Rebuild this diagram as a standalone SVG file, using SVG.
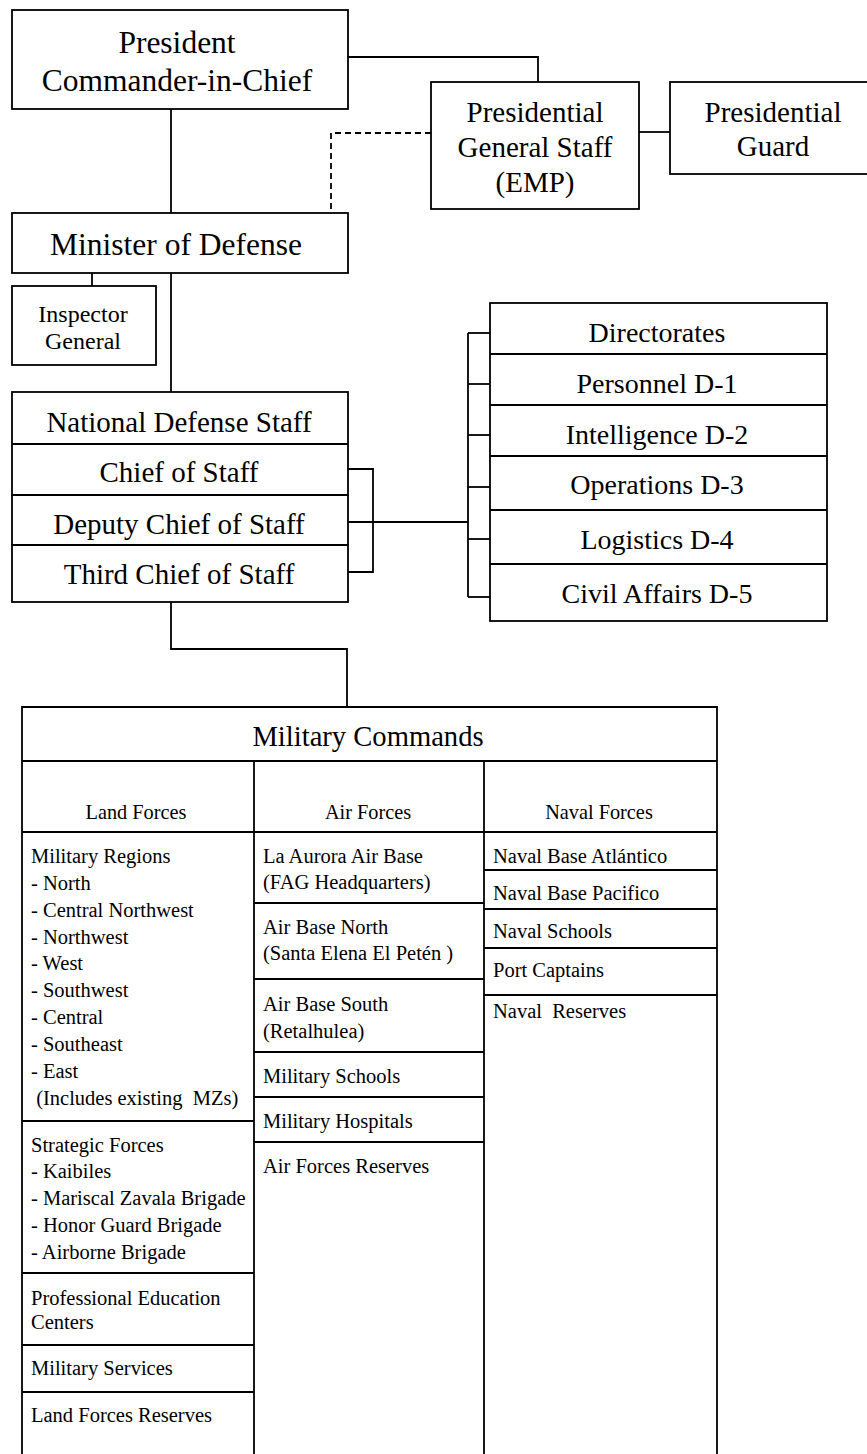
<svg xmlns="http://www.w3.org/2000/svg" width="867" height="1454" viewBox="0 0 867 1454">
<style>
.b{fill:#fff;stroke:#000;stroke-width:1.8}
.l{fill:none;stroke:#000;stroke-width:1.8}
.d{fill:none;stroke:#000;stroke-width:1.8;stroke-dasharray:6,4}
text{font-family:"Liberation Serif","Times New Roman",serif;fill:#000;white-space:pre}
.t30{font-size:31.5px;text-anchor:middle}
.t29{font-size:29px;text-anchor:middle}
.t28{font-size:28px;text-anchor:middle}
.tm{font-size:28.6px;text-anchor:middle}
.t24{font-size:24px;text-anchor:middle}
.s{font-size:20.5px}
.sc{font-size:20.3px;text-anchor:middle}
</style>
<rect width="867" height="1454" fill="#fff"/>
<g id="connectors">
<polyline class="l" points="348,57 538,57 538,82"/>
<line class="l" x1="639" y1="132" x2="670" y2="132"/>
<polyline class="d" points="431,133 331,133 331,213"/>
<line class="l" x1="171" y1="109" x2="171" y2="213"/>
<line class="l" x1="92" y1="273" x2="92" y2="286"/>
<line class="l" x1="171" y1="273" x2="171" y2="392"/>
<polyline class="l" points="348,469 373,469 373,572 348,572"/>
<line class="l" x1="348" y1="522" x2="468" y2="522"/>
<line class="l" x1="468" y1="333" x2="468" y2="597"/>
<line class="l" x1="468" y1="333" x2="490" y2="333"/>
<line class="l" x1="468" y1="384" x2="490" y2="384"/>
<line class="l" x1="468" y1="435" x2="490" y2="435"/>
<line class="l" x1="468" y1="487" x2="490" y2="487"/>
<line class="l" x1="468" y1="539" x2="490" y2="539"/>
<line class="l" x1="468" y1="597" x2="490" y2="597"/>
<polyline class="l" points="171,602 171,649 347,649 347,707"/>
</g>
<g id="president">
<rect class="b" x="12" y="10" width="336" height="99"/>
<text class="t30" x="177" y="53">President</text>
<text class="t30" x="177" y="91">Commander-in-Chief</text>
</g>
<g id="emp">
<rect class="b" x="431" y="82" width="208" height="127"/>
<text class="t29" x="535" y="122">Presidential</text>
<text class="t29" x="535" y="157">General Staff</text>
<text class="t29" x="535" y="192">(EMP)</text>
</g>
<g id="guard">
<rect class="b" x="670" y="82" width="210" height="92"/>
<text class="t29" x="773" y="122">Presidential</text>
<text class="t29" x="773" y="156">Guard</text>
</g>
<g id="minister">
<rect class="b" x="12" y="213" width="336" height="60"/>
<text class="t30" x="176" y="255">Minister of Defense</text>
</g>
<g id="inspector">
<rect class="b" x="12" y="286" width="144" height="79"/>
<text class="t24" x="83" y="322">Inspector</text>
<text class="t24" x="83" y="349">General</text>
</g>
<g id="nds">
<rect class="b" x="12" y="392" width="336" height="210"/>
<line class="l" x1="12" y1="444" x2="348" y2="444"/>
<line class="l" x1="12" y1="495" x2="348" y2="495"/>
<line class="l" x1="12" y1="545" x2="348" y2="545"/>
<text class="t29" x="179" y="432">National Defense Staff</text>
<text class="t29" x="179" y="482">Chief of Staff</text>
<text class="t29" x="179" y="534">Deputy Chief of Staff</text>
<text class="t29" x="179" y="584">Third Chief of Staff</text>
</g>
<g id="directorates">
<rect class="b" x="490" y="303" width="337" height="318"/>
<line class="l" x1="490" y1="354" x2="827" y2="354"/>
<line class="l" x1="490" y1="405" x2="827" y2="405"/>
<line class="l" x1="490" y1="456" x2="827" y2="456"/>
<line class="l" x1="490" y1="510" x2="827" y2="510"/>
<line class="l" x1="490" y1="564" x2="827" y2="564"/>
<text class="t28" x="657" y="342">Directorates</text>
<text class="t28" x="657" y="393">Personnel D-1</text>
<text class="t28" x="657" y="444">Intelligence D-2</text>
<text class="t28" x="657" y="494">Operations D-3</text>
<text class="t28" x="657" y="549">Logistics D-4</text>
<text class="t28" x="657" y="603">Civil Affairs D-5</text>
</g>
<g id="military-commands">
<polyline class="l" points="22,1460 22,707 717,707 717,1460"/>
<line class="l" x1="22" y1="761" x2="717" y2="761"/>
<line class="l" x1="254" y1="761" x2="254" y2="1460"/>
<line class="l" x1="484" y1="761" x2="484" y2="1460"/>
<line class="l" x1="22" y1="832" x2="717" y2="832"/>
<text class="tm" x="368" y="746">Military Commands</text>
<text class="sc" x="136" y="819">Land Forces</text>
<text class="sc" x="368" y="819">Air Forces</text>
<text class="sc" x="599" y="819">Naval Forces</text>
</g>
<g id="land-forces">
<line class="l" x1="22" y1="1121" x2="254" y2="1121"/>
<line class="l" x1="22" y1="1273" x2="254" y2="1273"/>
<line class="l" x1="22" y1="1345" x2="254" y2="1345"/>
<line class="l" x1="22" y1="1392" x2="254" y2="1392"/>
<text class="s" x="31" y="863">Military Regions</text>
<text class="s" x="31" y="890">- North</text>
<text class="s" x="31" y="917">- Central Northwest</text>
<text class="s" x="31" y="944">- Northwest</text>
<text class="s" x="31" y="970">- West</text>
<text class="s" x="31" y="997">- Southwest</text>
<text class="s" x="31" y="1024">- Central</text>
<text class="s" x="31" y="1051">- Southeast</text>
<text class="s" x="31" y="1078">- East</text>
<text class="s" x="31" y="1105"> (Includes existing  MZs)</text>
<text class="s" x="31" y="1152">Strategic Forces</text>
<text class="s" x="31" y="1178">- Kaibiles</text>
<text class="s" x="31" y="1205">- Mariscal Zavala Brigade</text>
<text class="s" x="31" y="1232">- Honor Guard Brigade</text>
<text class="s" x="31" y="1259">- Airborne Brigade</text>
<text class="s" x="31" y="1305">Professional Education</text>
<text class="s" x="31" y="1329">Centers</text>
<text class="s" x="31" y="1375">Military Services</text>
<text class="s" x="31" y="1422">Land Forces Reserves</text>
</g>
<g id="air-forces">
<line class="l" x1="254" y1="903" x2="484" y2="903"/>
<line class="l" x1="254" y1="979" x2="484" y2="979"/>
<line class="l" x1="254" y1="1052" x2="484" y2="1052"/>
<line class="l" x1="254" y1="1097" x2="484" y2="1097"/>
<line class="l" x1="254" y1="1142" x2="484" y2="1142"/>
<text class="s" x="263" y="863">La Aurora Air Base</text>
<text class="s" x="263" y="889">(FAG Headquarters)</text>
<text class="s" x="263" y="934">Air Base North</text>
<text class="s" x="263" y="960">(Santa Elena El Petén )</text>
<text class="s" x="263" y="1011">Air Base South</text>
<text class="s" x="263" y="1038">(Retalhulea)</text>
<text class="s" x="263" y="1083">Military Schools</text>
<text class="s" x="263" y="1128">Military Hospitals</text>
<text class="s" x="263" y="1173">Air Forces Reserves</text>
</g>
<g id="naval-forces">
<line class="l" x1="484" y1="870" x2="717" y2="870"/>
<line class="l" x1="484" y1="909" x2="717" y2="909"/>
<line class="l" x1="484" y1="948" x2="717" y2="948"/>
<line class="l" x1="484" y1="995" x2="717" y2="995"/>
<text class="s" x="493" y="863">Naval Base Atlántico</text>
<text class="s" x="493" y="900">Naval Base Pacifico</text>
<text class="s" x="493" y="938">Naval Schools</text>
<text class="s" x="493" y="977">Port Captains</text>
<text class="s" x="493" y="1018">Naval  Reserves</text>
</g>
</svg>
